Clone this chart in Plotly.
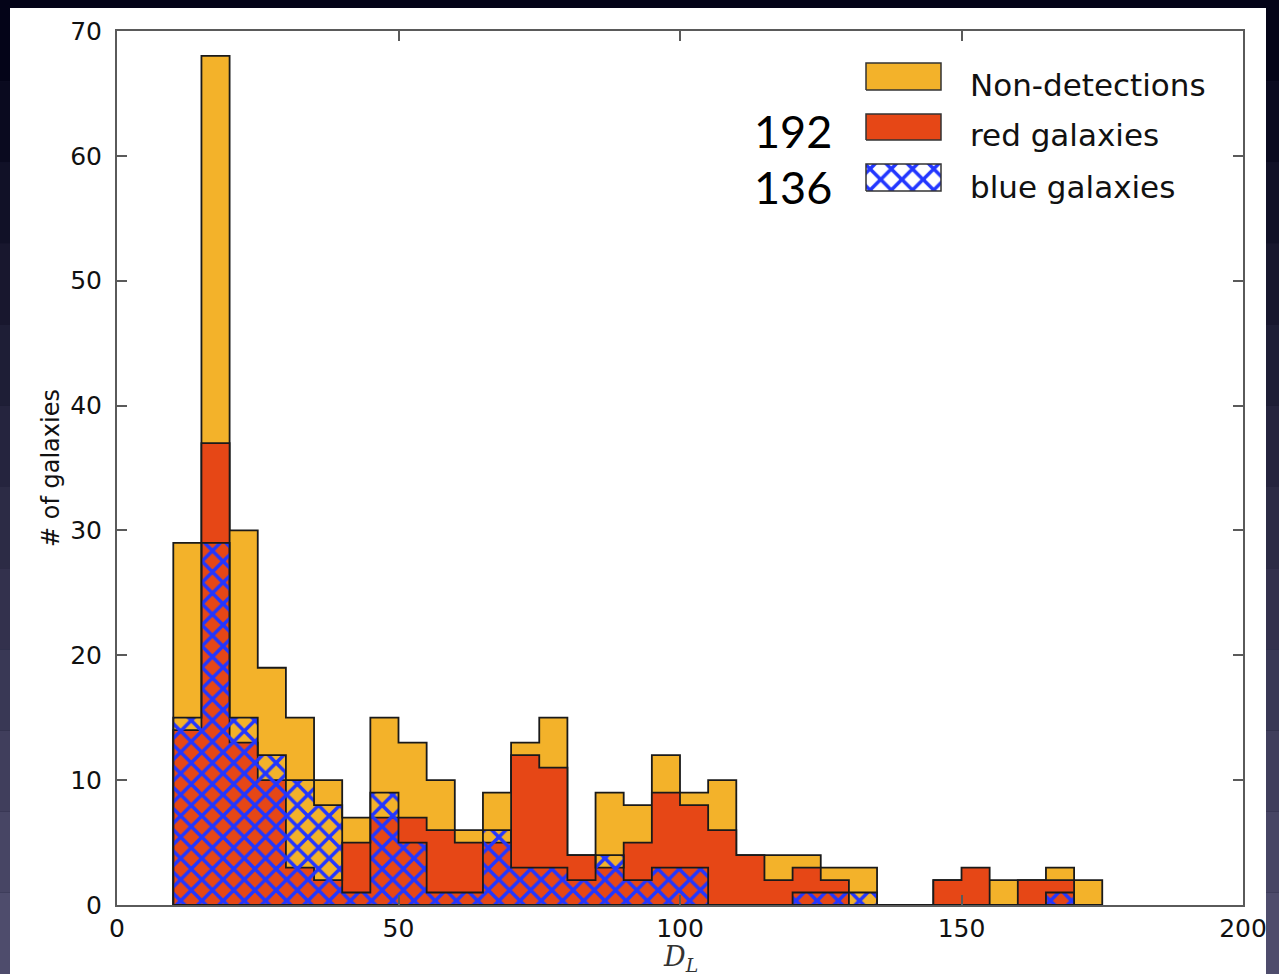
import plotly.graph_objects as go

# ---------------- data ----------------
bin_left = list(range(10, 175, 5))          # left edges of 5-wide bins, 10..170
bin_width = 5
non_detections = [29, 68, 30, 19, 15, 10, 7, 15, 13, 10, 6, 9, 13, 15, 4, 9, 8,
                  12, 9, 10, 4, 4, 4, 3, 3, 0, 0, 2, 2, 2, 2, 3, 2]
red_galaxies = [14, 37, 13, 10, 3, 2, 5, 7, 7, 6, 5, 5, 12, 11, 4, 3, 5,
                9, 8, 6, 4, 2, 3, 2, 0, 0, 0, 2, 3, 0, 2, 2, 0]
blue_galaxies = [15, 29, 15, 12, 10, 8, 1, 9, 5, 1, 1, 6, 3, 3, 2, 4, 2,
                 3, 3, 0, 0, 0, 1, 1, 1, 0, 0, 0, 0, 0, 0, 1, 0]
x_ticks = [0, 50, 100, 150, 200]
y_ticks = [0, 10, 20, 30, 40, 50, 60, 70]
legend_labels = ["Non-detections", "red galaxies", "blue galaxies"]
legend_counts = ["", "192", "136"]

# ---------------- style ----------------
ORANGE = "#F3B22A"
RED = "#E64716"
BLUE = "#2236FF"
EDGE = "#1a1a1a"
W, H = 1279, 974
L, R, T, B = 117, 1243, 31, 905   # plot area in pixels
HATCH = dict(shape="x", fgcolor=BLUE, size=15, solidity=0.42, fgopacity=1)


def step_outline(lefts, width, counts):
    xs, ys = [lefts[0]], [0]
    for left, c in zip(lefts, counts):
        xs += [left, left + width]
        ys += [c, c]
    xs += [lefts[-1] + width, lefts[0]]
    ys += [0, 0]
    return xs, ys


def fx(px):
    return (px - L) / (R - L)


def fy(py):
    return (B - py) / (B - T)


fig = go.Figure()

# histograms (step-filled, overlaid)
for counts, color in [(non_detections, ORANGE), (red_galaxies, RED)]:
    xs, ys = step_outline(bin_left, bin_width, counts)
    fig.add_trace(go.Scatter(x=xs, y=ys, mode="lines", fill="toself",
                             fillcolor=color, line=dict(color=EDGE, width=1.8),
                             hoverinfo="skip", showlegend=False))
xs, ys = step_outline(bin_left, bin_width, blue_galaxies)
fig.add_trace(go.Scatter(x=xs, y=ys, mode="lines", fill="toself",
                         fillcolor="rgba(0,0,0,0)",
                         fillpattern=dict(bgcolor="rgba(0,0,0,0)", **HATCH),
                         line=dict(color=EDGE, width=1.8),
                         hoverinfo="skip", showlegend=False))

# ---------------- hand-made legend (overlay axis in plot fractions) ----------------
sw_x0, sw_x1 = fx(866), fx(941)
sw_rows = [(63, 90), (114, 140), (164, 191)]
text_mid = [85, 135, 187]
count_mid = [None, 131, 187]
styles = [dict(fillcolor=ORANGE), dict(fillcolor=RED),
          dict(fillcolor="white", fillpattern=dict(bgcolor="white", **HATCH))]
for i, label in enumerate(legend_labels):
    y0, y1 = fy(sw_rows[i][1]), fy(sw_rows[i][0])
    fig.add_trace(go.Scatter(x=[sw_x0, sw_x1, sw_x1, sw_x0, sw_x0],
                             y=[y0, y0, y1, y1, y0], mode="lines", fill="toself",
                             line=dict(color="#333333", width=1.5),
                             xaxis="x2", yaxis="y2", hoverinfo="skip",
                             showlegend=False, **styles[i]))
    fig.add_annotation(x=fx(968), y=fy(text_mid[i]), xref="paper", yref="paper",
                       text=label, showarrow=False, xanchor="left", yanchor="middle",
                       font=dict(family="DejaVu Sans", size=31, color="#111111"))
    if legend_counts[i]:
        fig.add_annotation(x=fx(834), y=fy(count_mid[i]), xref="paper", yref="paper",
                           text=legend_counts[i], showarrow=False,
                           xanchor="right", yanchor="middle",
                           font=dict(family="Lato", size=45, color="#000000"))

# axis titles
fig.add_annotation(x=fx(51), y=0.5, xref="paper", yref="paper", text="# of galaxies",
                   textangle=-90, showarrow=False, xanchor="center", yanchor="middle",
                   font=dict(family="DejaVu Sans", size=24, color="#111111"))
fig.add_annotation(x=fx(680), y=fy(959), xref="paper", yref="paper",
                   text="<i>D<sub>L</sub></i>", showarrow=False,
                   xanchor="center", yanchor="middle",
                   font=dict(family="DejaVu Serif", size=27, color="#333333"))

# background: dark slide gradient + white page
shapes = []
n_bands = 12
top_c, bot_c = (4, 4, 24), (78, 76, 108)
for k in range(n_bands):
    t = k / (n_bands - 1)
    c = tuple(int(top_c[j] + (bot_c[j] - top_c[j]) * t) for j in range(3))
    shapes.append(dict(type="rect", xref="paper", yref="paper", layer="below",
                       x0=fx(0), x1=fx(W), y0=fy(H * (k + 1) / n_bands),
                       y1=fy(H * k / n_bands),
                       fillcolor="rgb(%d,%d,%d)" % c, line=dict(width=0)))
shapes.append(dict(type="rect", xref="paper", yref="paper", layer="below",
                   x0=fx(10), x1=fx(1266), y0=fy(H + 2), y1=fy(8),
                   fillcolor="white", line=dict(width=0)))

axis_common = dict(showline=True, linecolor="#5a5a5a", linewidth=2, mirror="ticks",
                   ticks="inside", ticklen=10, tickwidth=1.5, tickcolor="#5a5a5a",
                   showgrid=False, zeroline=False,
                   tickfont=dict(family="DejaVu Sans", size=25, color="#111111"))

fig.update_layout(
    width=W, height=H,
    margin=dict(l=L, r=W - R, t=T, b=H - B, pad=0),
    paper_bgcolor="rgb(20,20,44)", plot_bgcolor="white",
    shapes=shapes,
    xaxis=dict(range=[0, 200], tickvals=x_ticks, ticklabelstandoff=0, **axis_common),
    yaxis=dict(range=[0, 70], tickvals=y_ticks, ticklabelstandoff=8, **axis_common),
    xaxis2=dict(overlaying="x", anchor="y2", range=[0, 1], visible=False),
    yaxis2=dict(overlaying="y", anchor="x2", range=[0, 1], visible=False),
    showlegend=False,
)

fig.write_html("out.html")
